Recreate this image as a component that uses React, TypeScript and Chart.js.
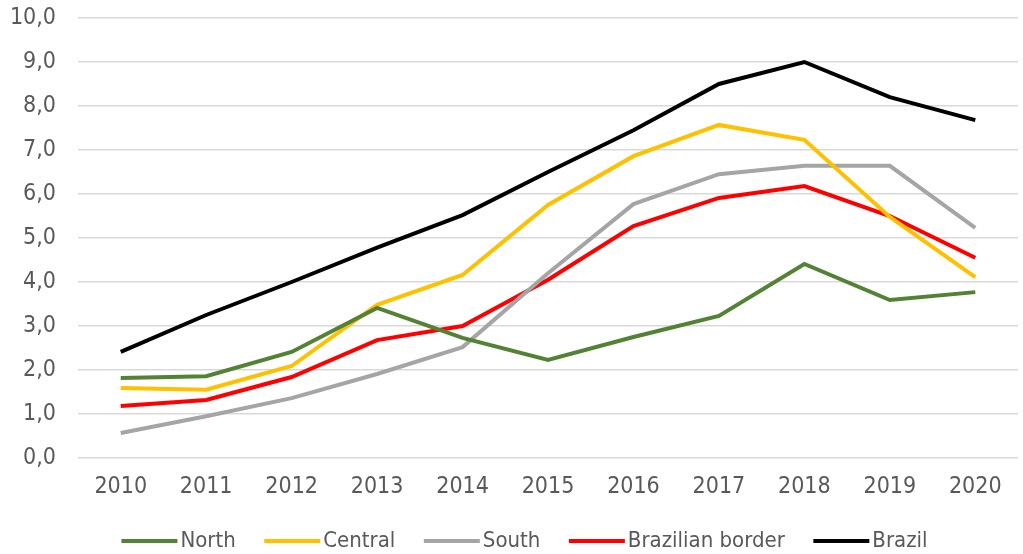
import React, { useEffect, useRef } from "react";
import { Chart, registerables } from "chart.js";

Chart.register(...registerables);

const years = ["2010", "2011", "2012", "2013", "2014", "2015", "2016", "2017", "2018", "2019", "2020"];
const north = [1.82, 1.86, 2.41, 3.41, 2.73, 2.23, 2.75, 3.23, 4.41, 3.59, 3.77];
const central = [1.59, 1.55, 2.09, 3.48, 4.16, 5.75, 6.86, 7.57, 7.23, 5.48, 4.11];
const south = [0.57, 0.95, 1.36, 1.91, 2.52, 4.2, 5.77, 6.45, 6.64, 6.64, 5.23];
const brazilianBorder = [1.18, 1.32, 1.84, 2.68, 3.0, 4.05, 5.27, 5.91, 6.18, 5.5, 4.55];
const brazil = [2.41, 3.25, 4.0, 4.78, 5.52, 6.5, 7.45, 8.5, 9.0, 8.2, 7.68];

const FONT = "'DejaVu Sans Condensed', 'Liberation Sans Narrow', 'Liberation Sans', sans-serif";
const FONT_SIZE = 23;
const LEGEND_FONT_SIZE = 22;
const TEXT = "#595959";

const legendPlugin = {
  id: "lineLegend",
  afterDraw(chart: any) {
    const ctx = chart.ctx as CanvasRenderingContext2D;
    const items = chart.data.datasets.map((d: any) => ({ label: d.label, color: d.borderColor }));
    const lineLen = 56;
    const gapText = 3;
    const gapItem = 28.5;
    ctx.save();
    ctx.font = `${LEGEND_FONT_SIZE}px ${FONT}`;
    ctx.textBaseline = "middle";
    const widths = items.map((it: any) => lineLen + gapText + ctx.measureText(it.label).width);
    const total = widths.reduce((a: number, b: number) => a + b, 0) + gapItem * (items.length - 1);
    let x = (chart.width - total) / 2 + 13;
    const y = 541;
    items.forEach((it: any, i: number) => {
      ctx.strokeStyle = it.color;
      ctx.lineWidth = 4;
      ctx.lineCap = "butt";
      ctx.beginPath();
      ctx.moveTo(x, y);
      ctx.lineTo(x + lineLen, y);
      ctx.stroke();
      ctx.fillStyle = TEXT;
      ctx.fillText(it.label, x + lineLen + gapText, y);
      x += widths[i] + gapItem;
    });
    ctx.restore();
  },
};

export default function App() {
  const ref = useRef<HTMLCanvasElement>(null);
  useEffect(() => {
    if (!ref.current) return;
    const mk = (label: string, data: number[], color: string) => ({
      label,
      data,
      borderColor: color,
      backgroundColor: color,
      borderWidth: 4,
      pointRadius: 0,
      tension: 0,
    });
    const chart = new Chart(ref.current, {
      type: "line",
      data: {
        labels: years,
        datasets: [
          mk("North", north, "#548235"),
          mk("Central", central, "#FFC000"),
          mk("South", south, "#A5A5A5"),
          mk("Brazilian border", brazilianBorder, "#FF0000"),
          mk("Brazil", brazil, "#000000"),
        ],
      },
      plugins: [legendPlugin],
      options: {
        animation: false,
        responsive: false,
        layout: { padding: { left: 0, right: 5, top: 18, bottom: 53 } },
        plugins: {
          tooltip: { enabled: false },
          legend: { display: false },
        },
        scales: {
          x: {
            offset: true,
            afterFit: (s: any) => { s.height = 43; },
            grid: { display: false, drawTicks: false },
            border: { display: false },
            ticks: { color: TEXT, font: { family: FONT, size: FONT_SIZE }, padding: 15, maxRotation: 0 },
          },
          y: {
            min: 0,
            max: 10,
            afterFit: (s: any) => { s.width = 78; },
            grid: { color: "#D9D9D9", lineWidth: 1.5, drawTicks: true, tickLength: 22, tickColor: "rgba(0,0,0,0)" },
            border: { display: false },
            ticks: {
              stepSize: 1,
              color: TEXT,
              font: { family: FONT, size: FONT_SIZE },
              padding: 0,
              callback: (v: any) => Number(v).toFixed(1).replace(".", ","),
            },
          },
        },
      },
    });
    return () => chart.destroy();
  }, []);
  return (
    <div style={{ position: "fixed", left: 0, top: 0, width: 1023, height: 554, background: "#fff" }}>
      <canvas ref={ref} width={1023} height={554} />
    </div>
  );
}
